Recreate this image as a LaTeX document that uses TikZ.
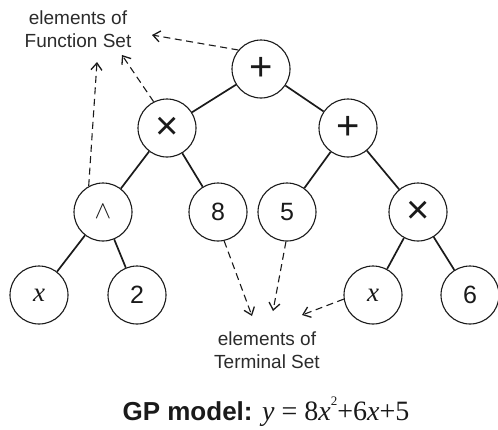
\documentclass[tikz,border=0pt]{standalone}
\usepackage{fontspec}
\setmainfont{Liberation Sans}
\newfontfamily\tmsfont{Liberation Serif}
\usetikzlibrary{arrows.meta}
\definecolor{gpink}{HTML}{1A1A1A}
\definecolor{gptext}{HTML}{2B2B2B}
\tikzset{
  >={Straight Barb[length=7pt,width=11pt,line width=1.3pt]},
  gpnode/.style={circle,draw=gpink,line width=1.1pt,minimum size=58pt,inner sep=0pt,
    font=\fontsize{25}{30}\selectfont,text=gpink},
  opnode/.style={gpnode,font=\fontsize{40}{40}\selectfont},
  gpedge/.style={draw=gpink,line width=1.7pt},
  gpref/.style={->,draw=gpink,line width=1.1pt,dash pattern=on 7pt off 4.5pt},
  setlabel/.style={font=\fontsize{19}{23}\selectfont,align=center,text=gptext},
  modellabel/.style={font=\fontsize{26}{30}\selectfont,text=gpink}
}
\newcommand{\vx}{{\tmsfont\itshape x}}
\newcommand{\vy}{{\tmsfont\itshape y}}

\begin{document}
\begin{tikzpicture}[x=1pt,y=-1pt]
  \useasboundingbox (0,0) rectangle (498,429);

  \node[setlabel] (fset) at (78,29) {elements of\\Function Set};
  \node[setlabel] (tset) at (267,350) {elements of\\Terminal Set};

  \node[opnode] (root) at (261,69) {+};
  \node[opnode] (mulL) at (167,128) {×};
  \node[opnode] (addR) at (348,128) {+};
  \node[gpnode] (pow) at (103,212) {\fontsize{23}{24}\selectfont$\wedge$};
  \node[gpnode] (eight) at (218,212) {8};
  \node[gpnode] (five) at (287,212) {5};
  \node[opnode] (mulR) at (418,212) {×};
  \node[gpnode,font=\fontsize{27}{30}\selectfont] (xL) at (39,295) {\vx};
  \node[gpnode] (two) at (137,295) {2};
  \node[gpnode,font=\fontsize{27}{30}\selectfont] (xR) at (373,295) {\vx};
  \node[gpnode] (six) at (470,295) {6};

  \foreach \a/\b in {root/mulL,root/addR,mulL/pow,mulL/eight,addR/five,addR/mulR,
                     pow/xL,pow/two,mulR/xR,mulR/six}
    \draw[gpedge] (\a) -- (\b);

  % free ends of the dashed references
  \coordinate (fA) at (152,35);
  \coordinate (fB) at (122,55);
  \coordinate (fC) at (97,62);
  \coordinate (tA) at (252,316);
  \coordinate (tB) at (273,311);
  \coordinate (tC) at (302,315);

  \draw[gpref] (root.140) -- (fA);
  \draw[gpref] (mulL.117) -- (fB);
  \draw[gpref] (pow.119) -- (fC);
  \draw[gpref] (eight.-78) -- (tA);
  \draw[gpref] (five.-92) -- (tB);
  \draw[gpref] (xR.-172) -- (tC);

  \node[modellabel] (model) at (266,412)
    {\textbf{GP model:} {\tmsfont\fontsize{28}{30}\selectfont\vy\ = 8\vx\raisebox{0.55em}{\fontsize{13}{14}\selectfont 2}+6\vx+5}};
\end{tikzpicture}
\end{document}
